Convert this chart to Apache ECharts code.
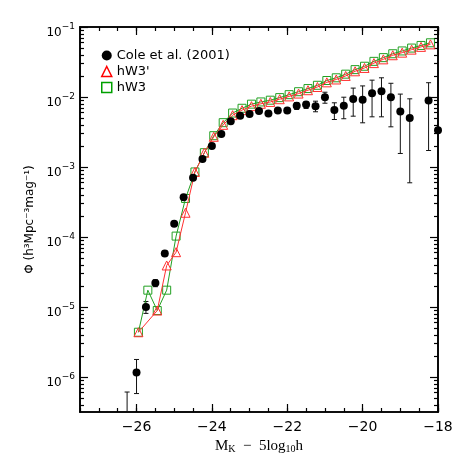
<!DOCTYPE html>
<html><head><meta charset="utf-8">
<script src="https://cdn.jsdelivr.net/npm/echarts@6/dist/echarts.min.js"></script>
<style>html,body{margin:0;padding:0;background:#fff}#c{width:463px;height:463px}</style>
</head><body><div id="c"></div>
<script>
// ---- data ----
const coleMag = [-26.25, -26.0, -25.75, -25.5, -25.25, -25.0, -24.75, -24.5, -24.25, -24.0, -23.75, -23.5, -23.25, -23.0, -22.75, -22.5, -22.25, -22.0, -21.75, -21.5, -21.25, -21.0, -20.75, -20.5, -20.25, -20.0, -19.75, -19.5, -19.25, -19.0, -18.75, -18.25, -18.0];
const colePhi = [2.5e-7, 1.16e-6, 1.0e-5, 2.2e-5, 5.8e-5, 1.55e-4, 3.7e-4, 7.0e-4, 1.3e-3, 2.0e-3, 2.95e-3, 4.5e-3, 5.4e-3, 5.7e-3, 6.3e-3, 5.8e-3, 6.4e-3, 6.4e-3, 7.5e-3, 7.8e-3, 7.4e-3, 9.9e-3, 6.5e-3, 7.5e-3, 9.4e-3, 9.1e-3, 1.13e-2, 1.21e-2, 9.9e-3, 6.2e-3, 5.0e-3, 8.9e-3, 3.36e-3];
const coleLo = [1e-7, 5.8e-7, 8.1e-6, 1.95e-5, 5.4e-5, null, null, null, null, null, null, null, null, null, null, null, null, null, 6.63e-3, 6.86e-3, 6.15e-3, 8.15e-3, 4.77e-3, 4.89e-3, 5.32e-3, 4.28e-3, 5.21e-3, 5.21e-3, 3.75e-3, 1.56e-3, 5.95e-4, 1.72e-3, null];
const coleHi = [6.1e-7, 1.78e-6, 1.2e-5, 2.45e-5, 6.3e-5, null, null, null, null, null, null, null, null, null, null, null, null, null, 8.34e-3, 8.53e-3, 8.71e-3, 1.17e-2, 8.26e-3, 9.93e-3, 1.34e-2, 1.44e-2, 1.74e-2, 1.88e-2, 1.57e-2, 1.10e-2, 9.42e-3, 1.6e-2, null];

const hW3pMag = [-25.95, -25.45, -25.2, -24.95, -24.7, -24.45, -24.2, -23.95, -23.7, -23.45, -23.2, -22.95, -22.7, -22.45, -22.2, -21.95, -21.7, -21.45, -21.2, -20.95, -20.7, -20.45, -20.2, -19.95, -19.7, -19.45, -19.2, -18.95, -18.7, -18.45, -18.2];
const hW3pPhi = [4.36e-6, 8.9e-6, 3.92e-5, 6.07e-5, 2.22e-4, 8.5e-4, 1.6e-3, 2.7e-3, 4.0e-3, 5.5e-3, 6.5e-3, 7.4e-3, 8.0e-3, 8.5e-3, 9.3e-3, 1.02e-2, 1.12e-2, 1.25e-2, 1.39e-2, 1.62e-2, 1.78e-2, 2.0e-2, 2.33e-2, 2.6e-2, 3.05e-2, 3.45e-2, 3.95e-2, 4.3e-2, 4.75e-2, 5.2e-2, 5.65e-2];

const hW3Mag = [-25.95, -25.7, -25.45, -25.2, -24.95, -24.7, -24.45, -24.2, -23.95, -23.7, -23.45, -23.2, -22.95, -22.7, -22.45, -22.2, -21.95, -21.7, -21.45, -21.2, -20.95, -20.7, -20.45, -20.2, -19.95, -19.7, -19.45, -19.2, -18.95, -18.7, -18.45, -18.2];
const hW3Phi = [4.36e-6, 1.74e-5, 8.9e-6, 1.74e-5, 1.03e-4, 3.55e-4, 8.5e-4, 1.6e-3, 2.8e-3, 4.3e-3, 5.9e-3, 6.9e-3, 7.9e-3, 8.5e-3, 9.0e-3, 9.8e-3, 1.08e-2, 1.19e-2, 1.32e-2, 1.47e-2, 1.72e-2, 1.88e-2, 2.12e-2, 2.46e-2, 2.75e-2, 3.23e-2, 3.65e-2, 4.15e-2, 4.55e-2, 5.0e-2, 5.45e-2, 5.95e-2];

const xTickLabels = [-26, -24, -22, -20, -18];
const yTickLabels = [1e-6, 1e-5, 1e-4, 1e-3, 1e-2, 1e-1];

// ---- axis ranges and minor ticks ----
const xMin = -27.5, xMax = -18;
const yMin = Math.pow(10, -6.5), yMax = 0.1;
const xMinor = [];
for (let v = xMin; v <= xMax + 1e-9; v += 0.5) xMinor.push(v);
const yMinor = [];
for (let e = -7; e <= -2; e++) for (let k = 2; k <= 9; k++) {
  const v = k * Math.pow(10, e);
  if (v >= yMin && v <= yMax) yMinor.push(v);
}

const FONT = 'DejaVu Sans';
const AX = '#000';
const gridPos = {left: 80, right: 25, top: 27, bottom: 51};

function xAxisDef(grid, pos, ticks, len, labels, line) {
  return {
    type: 'value', gridIndex: grid, position: pos, min: xMin, max: xMax,
    axisLine: {show: line, lineStyle: {color: AX, width: 1.6}},
    axisTick: {show: true, inside: true, length: len, customValues: ticks, lineStyle: {color: AX, width: 1.2}},
    axisLabel: labels ? {
      show: true, customValues: xTickLabels, margin: 8,
      fontFamily: FONT, fontSize: 14, color: '#000',
      formatter: v => (v < 0 ? '\u2212' : '') + Math.abs(v)
    } : {show: false},
    splitLine: {show: false}
  };
}
function yAxisDef(grid, pos, ticks, len, labels, line) {
  return {
    type: 'log', logBase: 10, gridIndex: grid, position: pos, min: yMin, max: yMax,
    axisLine: {show: line, lineStyle: {color: AX, width: 1.6}},
    axisTick: {show: true, inside: true, length: len, customValues: ticks, lineStyle: {color: AX, width: 1.2}},
    axisLabel: labels ? {
      show: true, customValues: yTickLabels, margin: 5, padding: [7, 0, 0, 0],
      formatter: v => {
        const e = Math.round(Math.log10(v));
        return '{b|10}{s|' + (e < 0 ? '\u2212' : '') + Math.abs(e) + '}';
      },
      rich: {
        b: {fontFamily: FONT, fontSize: 12, color: '#000', lineHeight: 16, verticalAlign: 'bottom'},
        s: {fontFamily: FONT, fontSize: 9, color: '#000', lineHeight: 9, verticalAlign: 'top'}
      }
    } : {show: false},
    splitLine: {show: false}
  };
}

const xAxes = [
  xAxisDef(0, 'bottom', xTickLabels, 8, true, true),
  xAxisDef(0, 'top', xTickLabels, 8, false, true),
  xAxisDef(1, 'bottom', xMinor, 4, false, true),
  xAxisDef(1, 'top', xMinor, 4, false, true)
];
xAxes[0].name = '{n|M}{sub|K}{n|  \u2212  5log}{sub|10}{n|h}';
xAxes[0].nameLocation = 'middle';
xAxes[0].nameGap = 26;
xAxes[0].nameTextStyle = {
  rich: {
    n: {fontFamily: 'Liberation Serif', fontSize: 15, color: '#000', lineHeight: 16, verticalAlign: 'bottom'},
    sub: {fontFamily: 'Liberation Serif', fontSize: 10, color: '#000', lineHeight: 6, verticalAlign: 'bottom'}
  }
};

const yAxes = [
  yAxisDef(0, 'left', yTickLabels, 8, true, true),
  yAxisDef(0, 'right', yTickLabels, 8, false, true),
  yAxisDef(1, 'left', yMinor, 4, false, true),
  yAxisDef(1, 'right', yMinor, 4, false, true)
];
yAxes[0].name = '\u03A6 (h\u00B3Mpc\u207B\u00B3mag\u207B\u00B9)';
yAxes[0].nameLocation = 'middle';
yAxes[0].nameGap = 40;
yAxes[0].nameTextStyle = {fontFamily: FONT, fontSize: 12, color: '#000'};

const errData = [];
coleMag.forEach((m, i) => { if (coleLo[i] != null) errData.push([m, coleLo[i], coleHi[i]]); });

const RED = '#ff3030', GREEN = '#22a022';

const option = {
  animation: false,
  backgroundColor: '#fff',
  grid: [Object.assign({}, gridPos), Object.assign({}, gridPos)],
  xAxis: xAxes,
  yAxis: yAxes,
  legend: {
    orient: 'vertical', left: 96, top: 44, itemWidth: 10, itemHeight: 10, itemGap: 3,
    selectedMode: false,
    textStyle: {fontFamily: FONT, fontSize: 13, color: '#000', lineHeight: 13},
    data: [
      {name: 'Cole et al. (2001)', icon: 'circle', itemStyle: {color: '#000', borderWidth: 0, opacity: 1}},
      {name: "hW3'", icon: 'triangle', itemStyle: {color: 'rgba(255,255,255,0)', borderColor: '#ff0000', borderWidth: 1.5}},
      {name: 'hW3', icon: 'rect', itemStyle: {color: 'rgba(255,255,255,0)', borderColor: '#00a000', borderWidth: 1.5}}
    ]
  },
  series: [
    // empty placeholders so the minor-tick axes of the overlay grid are laid out
    {type: 'line', name: '_m1', xAxisIndex: 2, yAxisIndex: 2, data: [], silent: true},
    {type: 'line', name: '_m2', xAxisIndex: 3, yAxisIndex: 3, data: [], silent: true},
    {
      type: 'custom', name: 'errors', xAxisIndex: 0, yAxisIndex: 0, clip: true, z: 3,
      data: errData,
      encode: {x: 0, y: [1, 2]},
      renderItem: (params, api) => {
        const x = api.value(0), lo = api.value(1), hi = api.value(2);
        const p1 = api.coord([x, hi]), p2 = api.coord([x, lo]);
        const cw = 2.5;
        const st = {stroke: '#111', lineWidth: 1};
        return {type: 'group', children: [
          {type: 'line', shape: {x1: p1[0], y1: p1[1], x2: p2[0], y2: p2[1]}, style: st},
          {type: 'line', shape: {x1: p1[0] - cw, y1: p1[1], x2: p1[0] + cw, y2: p1[1]}, style: st},
          {type: 'line', shape: {x1: p2[0] - cw, y1: p2[1], x2: p2[0] + cw, y2: p2[1]}, style: st}
        ]};
      }
    },
    {
      type: 'line', name: 'hW3', xAxisIndex: 0, yAxisIndex: 0, z: 4,
      data: hW3Mag.map((m, i) => [m, hW3Phi[i]]),
      symbol: 'rect', symbolSize: 8, showAllSymbol: true,
      itemStyle: {color: 'rgba(255,255,255,0)', borderColor: GREEN, borderWidth: 1},
      lineStyle: {color: GREEN, width: 1},
      emphasis: {disabled: true}
    },
    {
      type: 'line', name: "hW3'", xAxisIndex: 0, yAxisIndex: 0, z: 5,
      data: hW3pMag.map((m, i) => [m, hW3pPhi[i]]),
      symbol: 'triangle', symbolSize: 9, showAllSymbol: true,
      itemStyle: {color: 'rgba(255,255,255,0)', borderColor: RED, borderWidth: 1},
      lineStyle: {color: RED, width: 1},
      emphasis: {disabled: true}
    },
    {
      type: 'scatter', name: 'Cole et al. (2001)', xAxisIndex: 0, yAxisIndex: 0, z: 6,
      data: coleMag.map((m, i) => [m, colePhi[i]]),
      symbol: 'circle', symbolSize: 8, clip: true,
      itemStyle: {color: '#000', opacity: 1},
      emphasis: {disabled: true}
    }
  ]
};
const chart = echarts.init(document.getElementById('c'), null, {renderer: 'canvas'});
chart.setOption(option);
</script>
</body></html>
